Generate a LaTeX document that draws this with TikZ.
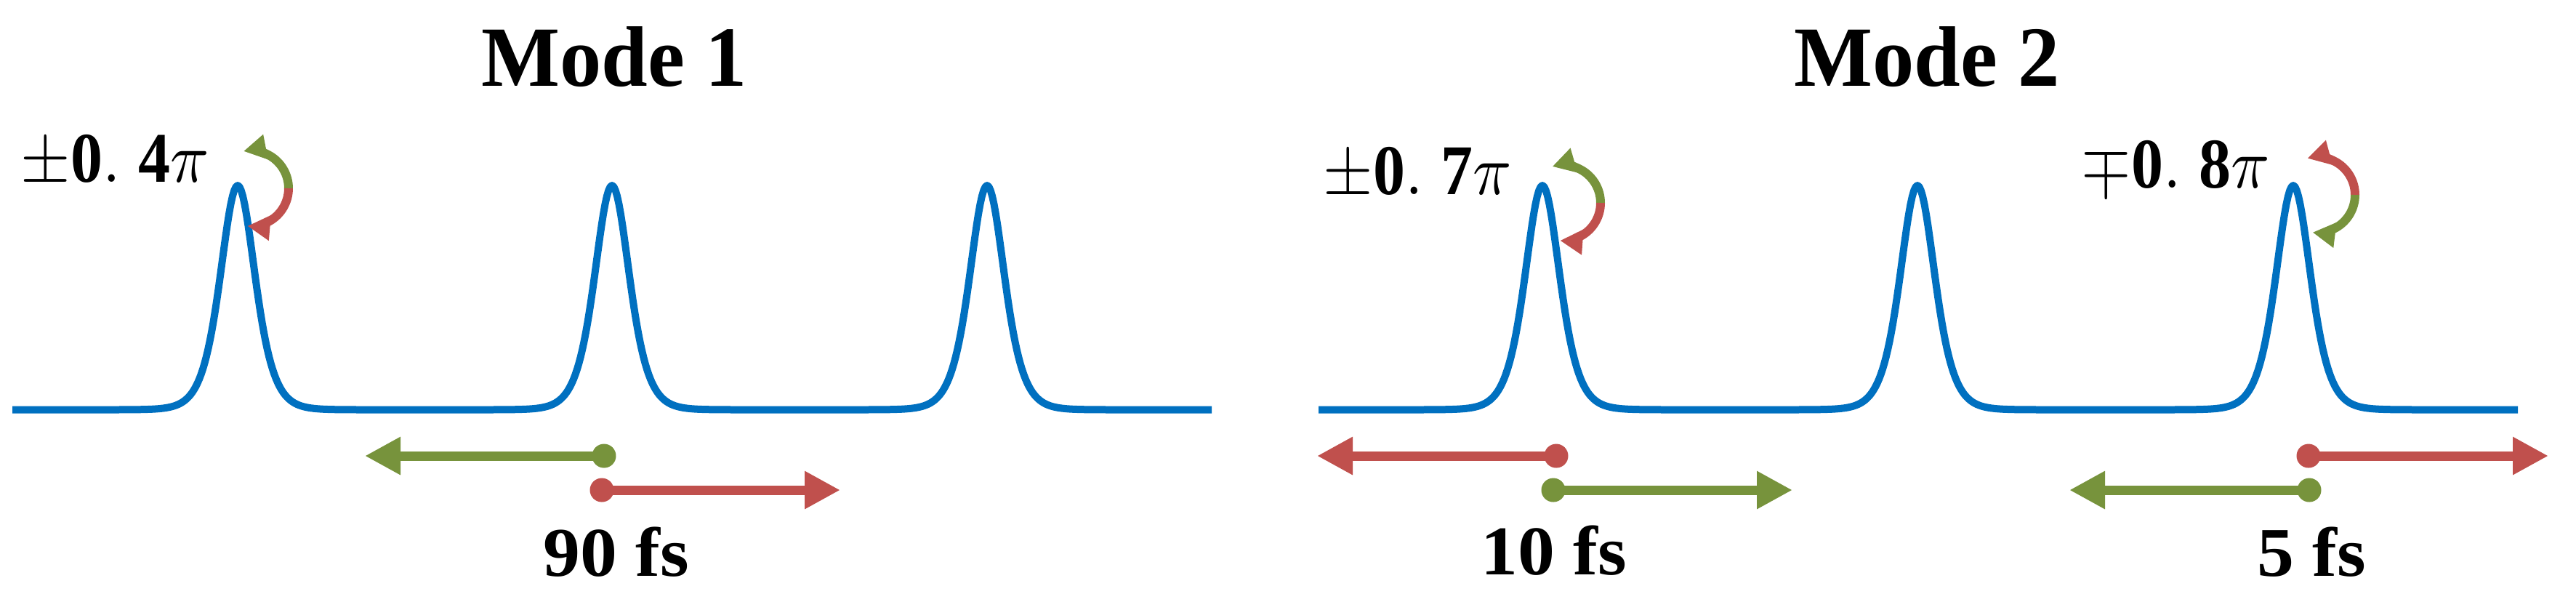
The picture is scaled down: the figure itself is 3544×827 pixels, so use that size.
\documentclass[tikz,border=0pt]{standalone}
\usepackage{fontspec}
\setmainfont{Liberation Serif}
\usetikzlibrary{arrows.meta,shapes.geometric}
\definecolor{pblue}{HTML}{0070C0}
\definecolor{pgreen}{HTML}{77933C}
\definecolor{pred}{HTML}{C0504D}
\begin{document}
\begin{tikzpicture}[x=0.1pt,y=-0.1pt,
  pulse/.style={draw=pblue, line width=1pt, line join=round},
  pk/.style={domain=-180:180, samples=151},
  title/.style={anchor=base, inner sep=0, font=\fontsize{11.8}{13}\selectfont\bfseries},
  fslbl/.style={anchor=base, inner sep=0, font=\fontsize{9.6}{11}\selectfont\bfseries},
  ph/.style={anchor=base, inner sep=0, font=\fontsize{10}{12}\selectfont},
  dotG/.style={circle, fill=pgreen, inner sep=0, minimum size=3.3pt},
  dotR/.style={circle, fill=pred, inner sep=0, minimum size=3.3pt},
  arrG/.style={draw=pgreen, line width=1.3pt, -{Triangle[length=4.9pt,width=4.9pt]}},
  arrR/.style={draw=pred, line width=1.3pt, -{Triangle[length=4.9pt,width=4.9pt]}},
  arcG/.style={draw=pgreen, line width=1.2pt, -{Triangle[length=3.1pt,width=3.3pt]}},
  arcR/.style={draw=pred, line width=1.2pt, -{Triangle[length=3.1pt,width=3.3pt]}}
]
\useasboundingbox[fill=white] (0,0) rectangle (3544,827);

% titles
\node[title] (t1) at (845,118) {\scalebox{0.97}[1]{Mode 1}};
\node[title] (t2) at (2651,118) {\scalebox{0.97}[1]{Mode 2}};

% pulse trains
\draw[pulse] (17,563.5) -- (147,563.5)
  -- plot[pk] ({327+\x},{563.5-308.5*(1/cosh(\x/32))^2}) -- (662,563.5)
  -- plot[pk] ({842+\x},{563.5-308.5*(1/cosh(\x/32))^2}) -- (1178,563.5)
  -- plot[pk] ({1358+\x},{563.5-308.5*(1/cosh(\x/32))^2}) -- (1667,563.5);
\draw[pulse] (1814,563.5) -- (1942,563.5)
  -- plot[pk] ({2122+\x},{563.5-308.5*(1/cosh(\x/32))^2}) -- (2458,563.5)
  -- plot[pk] ({2638+\x},{563.5-308.5*(1/cosh(\x/32))^2}) -- (2975,563.5)
  -- plot[pk] ({3155+\x},{563.5-308.5*(1/cosh(\x/32))^2}) -- (3464,563.5);

% phase labels
\node[ph] (p1) at (158,250) {\scalebox{0.88}[0.98]{$\pm\mathbf{0.\;4}\pi$}};
\node[ph] (p2) at (1950,267) {\scalebox{0.88}[0.98]{$\pm\mathbf{0.\;7}\pi$}};
\node[ph] (p3) at (2993,258) {\scalebox{0.88}[0.98]{$\mp\mathbf{0.\;8}\pi$}};

% curved phase arrows
\coordinate (c1) at (345,259);
\draw[arcG] (c1) ++(0:52) arc[start angle=0, end angle=-101, radius=52];
\draw[arcR] (c1) ++(0:52) arc[start angle=0, end angle=95, radius=52];
\coordinate (c2) at (2150,279);
\draw[arcG] (c2) ++(0:52) arc[start angle=0, end angle=-106, radius=52];
\draw[arcR] (c2) ++(0:52) arc[start angle=0, end angle=94, radius=52];
\coordinate (c3) at (3188,268);
\draw[arcR] (c3) ++(0:52) arc[start angle=0, end angle=-105, radius=52];
\draw[arcG] (c3) ++(0:52) arc[start angle=0, end angle=97, radius=52];

% delay arrows, mode 1
\node[dotG] (d1) at (831,627) {};
\coordinate (e1) at (502,627);
\draw[arrG] (d1.center) -- (e1);
\node[dotR] (d2) at (828,674) {};
\coordinate (e2) at (1156,674);
\draw[arrR] (d2.center) -- (e2);
\node[fslbl] (f1) at (848,792) {\scalebox{1.06}[1]{90 fs}};

% delay arrows, mode 2 (first)
\node[dotR] (d3) at (2141,627) {};
\coordinate (e3) at (1812,627);
\draw[arrR] (d3.center) -- (e3);
\node[dotG] (d4) at (2137,674) {};
\coordinate (e4) at (2466,674);
\draw[arrG] (d4.center) -- (e4);
\node[fslbl] (f2) at (2138,790) {\scalebox{1.06}[1]{10 fs}};

% delay arrows, mode 2 (second)
\node[dotR] (d5) at (3176,627) {};
\coordinate (e5) at (3506,627);
\draw[arrR] (d5.center) -- (e5);
\node[dotG] (d6) at (3177,674) {};
\coordinate (e6) at (2847,674);
\draw[arrG] (d6.center) -- (e6);
\node[fslbl] (f3) at (3180,792) {\scalebox{1.06}[1]{5 fs}};
\end{tikzpicture}
\end{document}
